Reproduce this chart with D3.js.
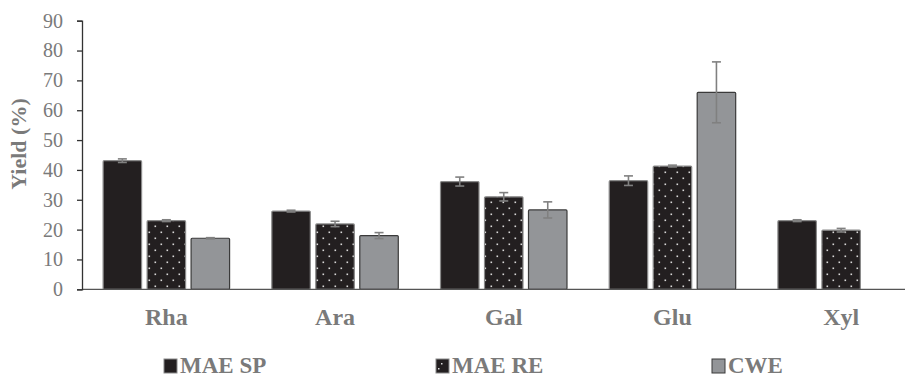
<!DOCTYPE html>
<html><head><meta charset="utf-8">
<script src="https://cdn.jsdelivr.net/npm/d3@7"></script>
<style>body{margin:0;background:#fff}svg{display:block}</style>
</head><body>
<svg id="c" width="913" height="378"></svg>
<script>
const categories = ["Rha","Ara","Gal","Glu","Xyl"];
const series = ["MAE SP","MAE RE","CWE"];
const maeSP = [43.1, 26.2, 36.1, 36.4, 23.0];
const maeSPErr = [0.6, 0.3, 1.5, 1.6, 0.3];
const maeRE = [23.0, 21.9, 31.0, 41.3, 19.8];
const maeREErr = [0.3, 0.9, 1.4, 0.3, 0.6];
const cwe = [17.1, 18.0, 26.6, 66.0, null];
const cweErr = [0.2, 1.0, 2.7, 10.2, null];
const yTicks = [0,10,20,30,40,50,60,70,80,90];

const values = {"MAE SP": maeSP, "MAE RE": maeRE, "CWE": cwe};
const errs = {"MAE SP": maeSPErr, "MAE RE": maeREErr, "CWE": cweErr};
const fills = {"MAE SP": "#231f20", "MAE RE": "url(#dots)", "CWE": "#939598"};
const strokes = {"MAE SP": "#8a8a8a", "MAE RE": "#8a8a8a", "CWE": "#3a3a3a"};

const svg = d3.select("#c");
const defs = svg.append("defs");
const pat = defs.append("pattern").attr("id","dots").attr("patternUnits","userSpaceOnUse")
  .attr("width",12).attr("height",12).attr("x",2).attr("y",1);
pat.append("rect").attr("width",12).attr("height",12).attr("fill","#231f20");
pat.append("rect").attr("x",2.5).attr("y",2.5).attr("width",1.6).attr("height",1.6).attr("fill","#d8d8d8");
pat.append("rect").attr("x",8.5).attr("y",8.5).attr("width",1.6).attr("height",1.6).attr("fill","#d8d8d8");

const x0 = d3.scaleBand().domain(categories).range([82, 925.5]).paddingInner(0).paddingOuter(0);
const x1 = d3.scaleBand().domain(series).range([0, x0.bandwidth()]).paddingInner(0.125).paddingOuter(0.48);
const y = d3.scaleLinear().domain([0,90]).range([289.3, 20.7]);

const serif = "'Liberation Serif','Times New Roman',serif";

// bars
series.forEach(s => {
  const g = svg.append("g");
  categories.forEach((c,i) => {
    const v = values[s][i];
    if (v == null) return;
    g.append("rect")
      .attr("x", x0(c) + x1(s)).attr("y", y(v))
      .attr("width", x1.bandwidth()).attr("height", y(0) - y(v))
      .attr("fill", fills[s]).attr("stroke", strokes[s]).attr("stroke-width", 1.2).attr("rx",1);
  });
});
// error bars
series.forEach(s => {
  categories.forEach((c,i) => {
    const v = values[s][i], e = errs[s][i];
    if (v == null || e == null) return;
    const cx = x0(c) + x1(s) + x1.bandwidth()/2;
    const g = svg.append("g").attr("stroke","#808080").attr("stroke-width",1.6);
    g.append("line").attr("x1",cx).attr("x2",cx).attr("y1",y(v+e)).attr("y2",y(v-e));
    g.append("line").attr("x1",cx-4.5).attr("x2",cx+4.5).attr("y1",y(v+e)).attr("y2",y(v+e));
    g.append("line").attr("x1",cx-4.5).attr("x2",cx+4.5).attr("y1",y(v-e)).attr("y2",y(v-e));
  });
});

// x axis line
svg.append("line").attr("x1",82).attr("x2",905).attr("y1",y(0)).attr("y2",y(0))
  .attr("stroke","#555").attr("stroke-width",1.3);

// y axis
const yAxis = svg.append("g").attr("transform","translate(82,0)")
  .call(d3.axisLeft(y).tickValues(yTicks).tickSize(5).tickPadding(14).tickFormat(d3.format("d")));
yAxis.select(".domain").attr("stroke","#333").attr("stroke-width",1.3);
yAxis.selectAll(".tick line").attr("stroke","#333").attr("stroke-width",1.3);
yAxis.selectAll(".tick text").attr("fill","#7a7a7a").attr("font-family",serif).attr("font-size",20);

// category labels
svg.append("g").selectAll("text").data(categories).join("text")
  .attr("x", d => x0(d) + x0.bandwidth()/2).attr("y", 325)
  .attr("text-anchor","middle").attr("font-family",serif).attr("font-weight","bold")
  .attr("font-size",24).attr("fill","#7a7a7a").text(d => d);

// y title
svg.append("text").attr("transform","translate(26,144) rotate(-90)")
  .attr("text-anchor","middle").attr("font-family",serif).attr("font-weight","bold")
  .attr("font-size",22).attr("fill","#7a7a7a").text("Yield (%)");

// legend
const legX = [164, 436, 712];
const leg = svg.append("g");
series.forEach((s,i) => {
  leg.append("rect").attr("x",legX[i]).attr("y",359).attr("width",13).attr("height",14)
    .attr("fill", s === "MAE RE" ? "#231f20" : fills[s]).attr("stroke",strokes[s]).attr("stroke-width",1);
  if (s === "MAE RE") {
    leg.append("rect").attr("x",legX[i]+5).attr("y",363).attr("width",1.5).attr("height",1.5).attr("fill","#ddd");
    leg.append("rect").attr("x",legX[i]+2).attr("y",368).attr("width",1.5).attr("height",1.5).attr("fill","#ddd");
  }
  leg.append("text").attr("x",legX[i]+16).attr("y",373)
    .attr("font-family",serif).attr("font-weight","bold").attr("font-size",23)
    .attr("fill","#7a7a7a").text(s);
});
</script>
</body></html>
